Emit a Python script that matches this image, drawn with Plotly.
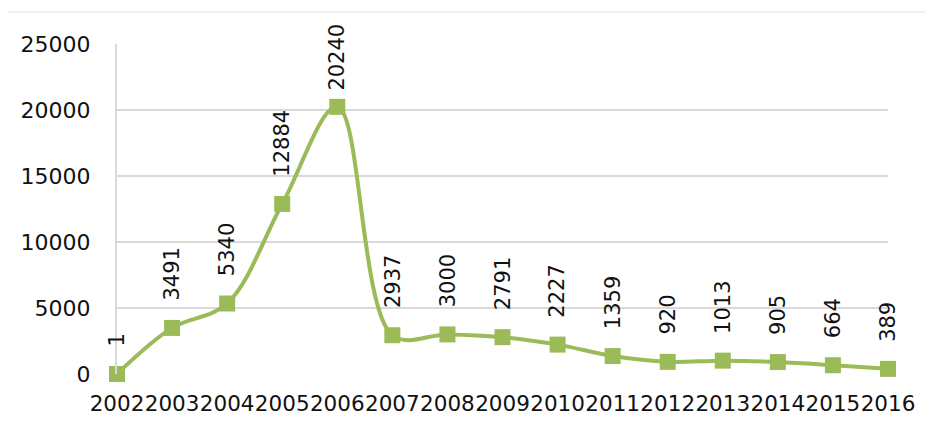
import plotly.graph_objects as go

years = [2002, 2003, 2004, 2005, 2006, 2007, 2008, 2009, 2010, 2011, 2012, 2013, 2014, 2015, 2016]
values = [1, 3491, 5340, 12884, 20240, 2937, 3000, 2791, 2227, 1359, 920, 1013, 905, 664, 389]
y_ticks = [0, 5000, 10000, 15000, 20000, 25000]

green = "#9BBB59"
font_name = "DejaVu Sans"

fig = go.Figure()

fig.add_trace(go.Scatter(
    x=years,
    y=values,
    mode="lines+markers",
    line=dict(color=green, width=4, shape="spline", smoothing=1.0),
    marker=dict(symbol="square", size=16, color=green),
    cliponaxis=False,
    showlegend=False,
))

# rotated data labels; the peak label is pushed down so it stays inside the chart
peak = max(values)
for yr, v in zip(years, values):
    fig.add_annotation(
        x=yr, y=v, text=str(v),
        textangle=-90,
        showarrow=False,
        xanchor="center", yanchor="bottom",
        yshift=14 if v == peak else 25,
        font=dict(family=font_name, size=21, color="#111111"),
    )

# faint frame line at the top
fig.add_shape(
    type="line", xref="paper", yref="paper",
    x0=-0.1414, x1=1.06, y0=1.097, y1=1.097,
    line=dict(color="#EBEBEB", width=1.5),
)

# page body has an 8px margin, so offsets are shifted by that
fig.update_layout(
    width=933,
    height=424,
    paper_bgcolor="white",
    plot_bgcolor="white",
    margin=dict(l=109, r=53, t=36, b=58),
    font=dict(family=font_name, size=22, color="#111111"),
)

fig.update_xaxes(
    range=[2002, 2016],
    tickmode="array",
    tickvals=years,
    ticktext=[str(y) for y in years],
    tickangle=0,
    showgrid=False,
    zeroline=False,
    showline=False,
    automargin=False,
    ticklabelstandoff=14,
    tickfont=dict(size=21.5),
)

fig.update_yaxes(
    range=[0, 25000],
    tickmode="array",
    tickvals=y_ticks,
    ticktext=[str(t) for t in y_ticks],
    showgrid=True,
    gridcolor="#D9D9D9",
    gridwidth=2,
    zeroline=False,
    showline=True,
    linecolor="#D9D9D9",
    linewidth=2,
    automargin=False,
    ticklabelstandoff=20,
    tickfont=dict(size=22),
)

fig.write_html("out.html")
